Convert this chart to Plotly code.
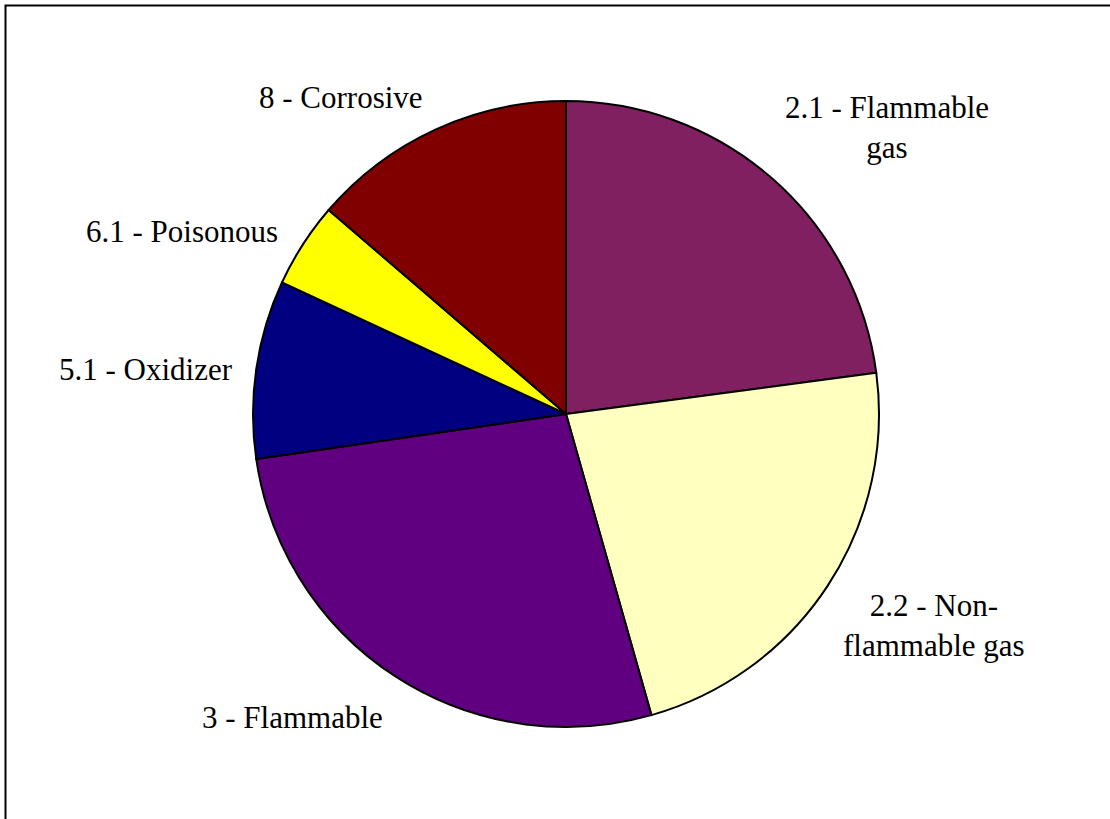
import plotly.graph_objects as go

# Data
categories = ["2.1 - Flammable gas", "2.2 - Non-flammable gas", "3 - Flammable",
              "5.1 - Oxidizer", "6.1 - Poisonous", "8 - Corrosive"]
values = [22.9, 22.7, 27.1, 9.2, 4.4, 13.7]
label_texts = ["2.1 - Flammable<br>gas", "2.2 - Non-<br>flammable gas", "3 - Flammable",
               "5.1 - Oxidizer", "6.1 - Poisonous", "8 - Corrosive"]

# Styles
colors = ["#802060", "#FFFFC0", "#600080", "#000080", "#FFFF00", "#800000"]
label_px = [(887, 127), (934, 625), (292, 717), (146, 370), (182, 231), (341, 97)]

W, H = 1110, 819
cx, cy, r = 566, 414, 313

fig = go.Figure(go.Pie(
    labels=categories,
    values=values,
    sort=False,
    direction="clockwise",
    rotation=0,
    textinfo="none",
    hoverinfo="label+percent",
    marker=dict(colors=colors, line=dict(color="black", width=2)),
    domain=dict(x=[(cx - r) / W, (cx + r) / W], y=[1 - (cy + r) / H, 1 - (cy - r) / H]),
    showlegend=False,
))

for txt, (px, py) in zip(label_texts, label_px):
    fig.add_annotation(
        text=txt, x=px / W, y=1 - py / H, xref="paper", yref="paper",
        xanchor="center", yanchor="middle", showarrow=False, align="center",
        font=dict(family="Liberation Serif", size=31, color="black"),
    )

# Frame (left and top edges visible; others run off the picture)
fig.add_shape(type="rect", xref="paper", yref="paper",
              x0=5.5 / W, x1=1.05, y0=-0.05, y1=1 - 5.5 / H,
              line=dict(color="black", width=2))

fig.update_layout(
    width=W, height=H,
    margin=dict(l=0, r=0, t=0, b=0),
    paper_bgcolor="white", plot_bgcolor="white",
)

fig.write_html("out.html", config={"displayModeBar": False},
               post_script="document.body.style.margin='0';document.body.style.overflow='hidden';")
